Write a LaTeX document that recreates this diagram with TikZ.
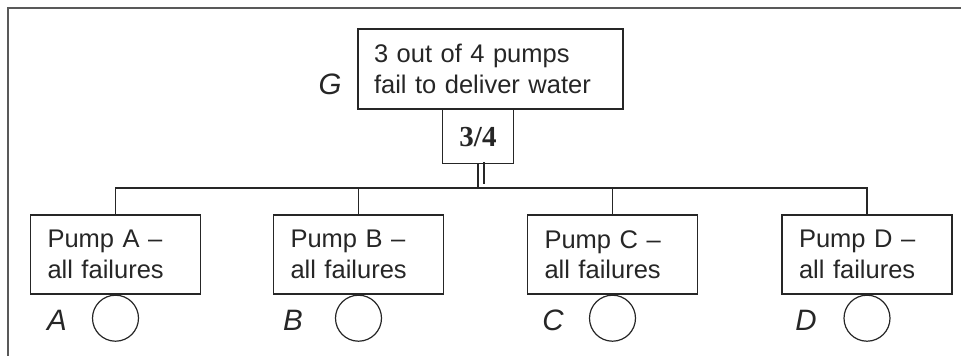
\documentclass[tikz,border=0pt]{standalone}
\usepackage{fontspec}
\setmainfont{Liberation Sans}
\newfontfamily\serifbold{Liberation Serif}
\begin{document}
\begin{tikzpicture}[x=1pt,y=-1pt,
  line width=1.2pt, color=black!85,
  boxtxt/.style={draw, rectangle, align=left, inner ysep=0pt, font=\fontsize{25.5}{30.5}\selectfont},
  pumpbox/.style={boxtxt, text width=136pt, inner xsep=17pt, minimum height=79pt},
  gatebox/.style={draw, rectangle, minimum width=71pt, minimum height=54pt, inner sep=0pt, font=\serifbold\bfseries\fontsize{29}{32}\selectfont},
  evcircle/.style={draw, circle, minimum size=46pt, inner sep=0pt},
  letter/.style={anchor=base, inner sep=0pt, font=\itshape\fontsize{29.5}{32}\selectfont}
]
\useasboundingbox (0,0) rectangle (961,356);
\draw[line width=2pt, draw=black!65] (7.5,356) -- (7.5,7.5) -- (961,7.5);

\node[boxtxt, text width=233pt, inner xsep=16pt, minimum height=80pt] (G) at (490.5,69) {3 out of 4 pumps\\fail to deliver water};
\node[letter] (Glab) at (330,94) {G};
\node[gatebox, anchor=north] (gate) at (478,109) {3/4};

\node[pumpbox] (pA) at (115.5,254.5) {Pump A --\\all failures};
\node[pumpbox] (pB) at (358.5,254.5) {Pump B --\\all failures};
\node[pumpbox] (pC) at (612.5,254.5) {Pump C --\\all failures};
\node[pumpbox] (pD) at (867,254.5) {Pump D --\\all failures};

\node[evcircle, anchor=north] (cA) at (pA.south) {};
\node[evcircle, anchor=north] (cB) at (pB.south) {};
\node[evcircle, anchor=north] (cC) at (pC.south) {};
\node[evcircle, anchor=north] (cD) at (pD.south) {};

\node[letter] (lA) at (57,330) {A};
\node[letter] (lB) at (293,330) {B};
\node[letter] (lC) at (553,330) {C};
\node[letter] (lD) at (806,330) {D};

\coordinate (bus) at (478,188);
\draw (gate.south) -- (bus);
\draw ([xshift=6pt,yshift=2pt]gate.south) -- ++(0,22);
\draw (pA.north) |- (bus) -| (pD.north);
\draw (pB.north) -- (pB.north |- bus);
\draw (pC.north) -- (pC.north |- bus);
\end{tikzpicture}
\end{document}
